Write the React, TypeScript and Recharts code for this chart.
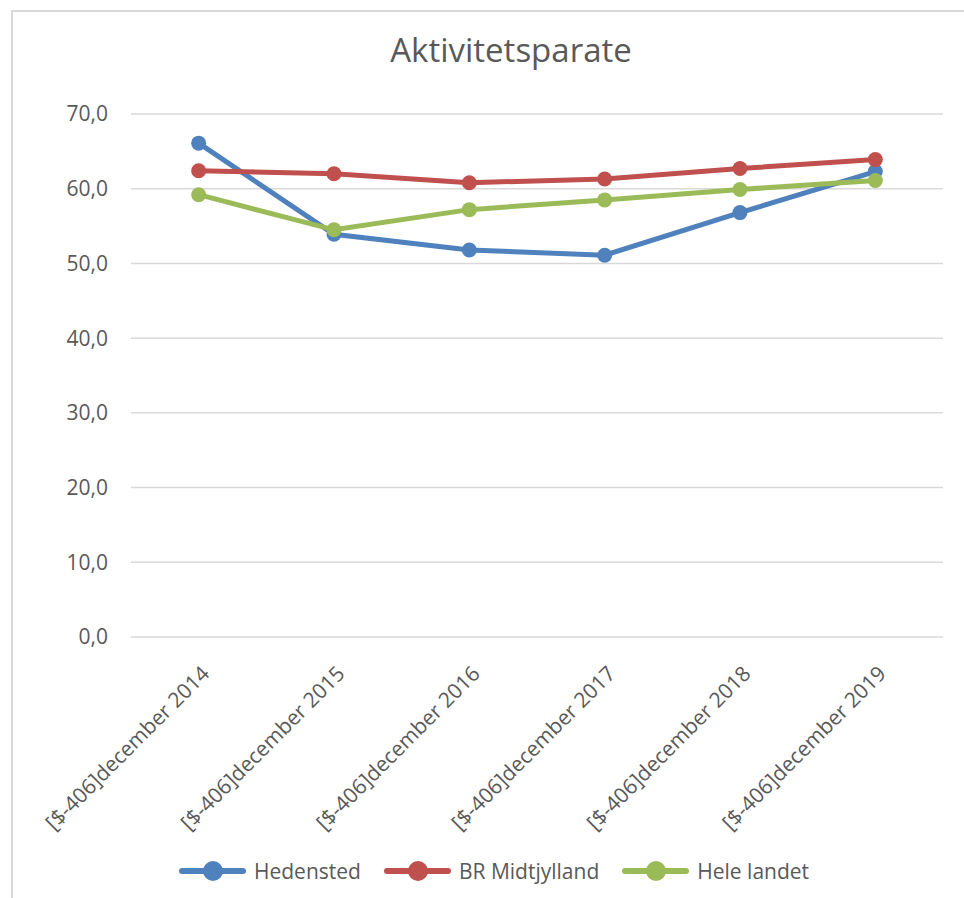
import { LineChart, Line, XAxis, YAxis, CartesianGrid, Legend } from "recharts";

const categories = [
  "[$-406]december 2014",
  "[$-406]december 2015",
  "[$-406]december 2016",
  "[$-406]december 2017",
  "[$-406]december 2018",
  "[$-406]december 2019",
];
const hedensted = [66.1, 53.9, 51.8, 51.1, 56.8, 62.3];
const brMidtjylland = [62.4, 62.0, 60.8, 61.3, 62.7, 63.9];
const heleLandet = [59.2, 54.5, 57.2, 58.5, 59.9, 61.1];
const yTicks = [0, 10, 20, 30, 40, 50, 60, 70];
const frameTicks = [0, 1, 2, 3, 4, 5, 6];

const series = [
  { key: "hedensted", name: "Hedensted", color: "#4F81BD" },
  { key: "br", name: "BR Midtjylland", color: "#C0504D" },
  { key: "hele", name: "Hele landet", color: "#9BBB59" },
];

const data = categories.map((c, i) => ({
  label: c,
  hedensted: hedensted[i],
  br: brMidtjylland[i],
  hele: heleLandet[i],
}));

const FONT = "'Open Sans', sans-serif";
const TEXT = "#595959";
const GRID = "#d9d9d9";

function XTick(props: any) {
  const { x, y, payload } = props;
  return (
    <g transform={`translate(${x + 12},${y + 36})`}>
      <text x={0} y={0} textAnchor="end" transform="rotate(-45)" fontSize={21} fontFamily={FONT} fill={TEXT}>
        {payload.value}
      </text>
    </g>
  );
}

function LegendContent() {
  return (
    <div style={{ display: "flex", height: 30, alignItems: "center", gap: 23, fontFamily: FONT, fontSize: 21, color: TEXT }}>
      {series.map((s) => (
        <div key={s.key} style={{ display: "flex", alignItems: "center", gap: 8 }}>
          <svg width={67} height={22} style={{ display: "block" }}>
            <line x1={3} y1={11} x2={64} y2={11} stroke={s.color} strokeWidth={6} strokeLinecap="round" />
            <circle cx={34} cy={11} r={10} fill={s.color} />
          </svg>
          <span style={{ lineHeight: "30px" }}>{s.name}</span>
        </div>
      ))}
    </div>
  );
}

export default function App() {
  return (
    <div style={{ position: "absolute", left: 0, top: 0, width: 964, height: 898, background: "#fff", overflow: "hidden" }}>
      <div
        style={{
          position: "absolute",
          left: 11,
          top: 10,
          width: 1000,
          height: 1000,
          borderLeft: `2px solid ${GRID}`,
          borderTop: `2px solid ${GRID}`,
        }}
      />
      <div
        style={{
          position: "absolute",
          top: 27,
          left: 0,
          width: 1022,
          textAlign: "center",
          fontFamily: FONT,
          fontSize: 33,
          color: TEXT,
        }}
      >
        Aktivitetsparate
      </div>
      <div style={{ position: "absolute", left: 0, top: 0 }}>
        <LineChart width={964} height={898} data={data} margin={{ top: 114, right: 21, left: 71, bottom: 12 }}>
          <CartesianGrid vertical={false} stroke={GRID} strokeWidth={1.5} />
          <XAxis
            xAxisId="frame"
            type="number"
            domain={[0, 6]}
            ticks={frameTicks}
            tick={false}
            height={0}
            axisLine={{ stroke: GRID, strokeWidth: 1.5 }}
            tickLine={{ stroke: GRID, strokeWidth: 1.5 }}
            tickSize={7}
          />
          <XAxis
            xAxisId="labels"
            dataKey="label"
            scale="band"
            interval={0}
            axisLine={false}
            tickLine={false}
            tickSize={0}
            height={219}
            tick={<XTick />}
          />
          <YAxis
            domain={[0, 70]}
            ticks={yTicks}
            width={60}
            axisLine={false}
            tickLine={false}
            tickSize={0}
            tickMargin={23}
            tickFormatter={(v: number) => v.toFixed(1).replace(".", ",")}
            tick={{ fontSize: 21, fontFamily: FONT, fill: TEXT }}
          />
          {series.map((s) => (
            <Line
              key={s.key}
              xAxisId="labels"
              type="linear"
              dataKey={s.key}
              name={s.name}
              stroke={s.color}
              strokeWidth={5}
              strokeLinecap="round"
              dot={{ r: 7.5, fill: s.color, stroke: s.color, strokeWidth: 0 }}
              isAnimationActive={false}
            />
          ))}
          <Legend verticalAlign="bottom" content={<LegendContent />} wrapperStyle={{ left: 179, width: 720 }} />
        </LineChart>
      </div>
    </div>
  );
}
